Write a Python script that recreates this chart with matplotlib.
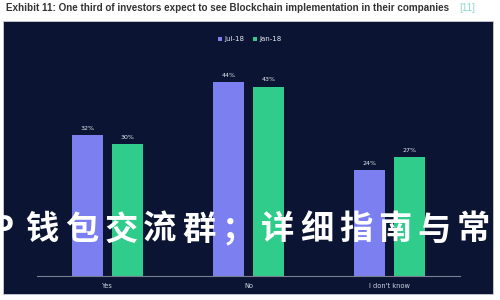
import matplotlib
matplotlib.use('Agg')
import matplotlib.pyplot as plt
from matplotlib.patches import Rectangle
import numpy as np

# data
categories = ['Yes', 'No', "I don't know"]
jul18 = [32, 44, 24]
jan18 = [30, 43, 27]
series_names = ['Jul-18', 'Jan-18']

title = 'Exhibit 11: One third of investors expect to see Blockchain implementation in their companies'
ref_tag = '[11]'
watermark = 'TP钱包交流群；详细指南与常见问题'

navy = '#0b1533'
purple = '#7c7ff0'
green = '#2fcc8c'

fig = plt.figure(figsize=(5, 3), dpi=100)
fig.patch.set_facecolor('white')

# dark panel behind the chart
panel = Rectangle((3 / 500, 6 / 300), 490 / 500, 273 / 300,
                  transform=fig.transFigure, facecolor=navy,
                  edgecolor='#c8ccd6', linewidth=0.6, zorder=-5)
fig.add_artist(panel)

# title
fig.text(6 / 500, 1 - 8 / 300, title, fontsize=7.1, fontweight='bold',
         color='#333333', va='center', ha='left', family='Liberation Sans')
fig.text(459 / 500, 1 - 8 / 300, ref_tag, fontsize=7.1, color='#8fd8cc',
         va='center', ha='left', family='Liberation Sans')

ax = fig.add_axes([37 / 500, 24 / 300, 423 / 500, 220 / 300])
ax.set_facecolor('none')
ax.set_zorder(1)
x = np.arange(len(categories)) + 0.5
w = 0.22
off = 0.142
b1 = ax.bar(x - off, jul18, w, color=purple, label=series_names[0], zorder=2)
b2 = ax.bar(x + off, jan18, w, color=green, label=series_names[1], zorder=2)

for bars, vals in [(b1, jul18), (b2, jan18)]:
    for b, v in zip(bars, vals):
        ax.text(b.get_x() + b.get_width() / 2, v + 1.0, f'{v}%',
                ha='center', va='bottom', fontsize=4.5, color='#e8e8f0')

ax.set_xlim(0, 3)
ax.set_ylim(0, 50)
ax.set_xticks(x)
ax.set_xticklabels(categories, fontsize=4.8, color='#d0d4e0')
ax.tick_params(axis='x', length=0, pad=5)
ax.set_yticks([])
for s in ['top', 'right', 'left']:
    ax.spines[s].set_visible(False)
ax.spines['bottom'].set_color('#7a7f90')
ax.spines['bottom'].set_linewidth(0.8)

leg = fig.legend(handles=[b1, b2], labels=series_names, loc='center',
                 bbox_to_anchor=(250 / 500, 1 - 39 / 300), ncol=2, frameon=False,
                 fontsize=5, handlelength=0.5, handleheight=0.5,
                 handletextpad=0.4, columnspacing=1.2)
for txt in leg.get_texts():
    txt.set_color('#e8e8f0')

# overlaid watermark text, one glyph every ~39 px
pitch = 39.2 / 500
start = -36 / 500
for i, ch in enumerate(watermark):
    fig.text(start + i * pitch, 1 - 230 / 300, ch, fontsize=24, fontweight='bold',
             color='white', va='center', ha='center',
             family=['Noto Sans CJK SC', 'DejaVu Sans'], zorder=10)

fig.savefig('out.png', dpi=100)
